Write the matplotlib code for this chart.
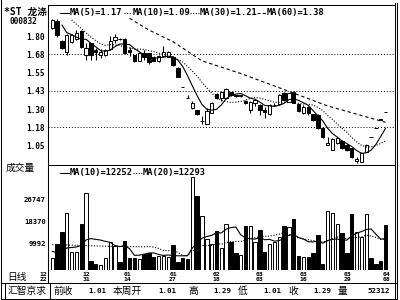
import numpy as np
import pandas as pd
import matplotlib
matplotlib.use("Agg")
import matplotlib.pyplot as plt
import matplotlib.transforms as mtransforms
from matplotlib.lines import Line2D

plt.rcParams['font.family'] = ['DejaVu Sans Mono', 'Noto Sans CJK SC']

# daily K-line of *ST 龙涤 (000832)
opens = [1.855, 1.905, 1.768, 1.691, 1.762, 1.777, 1.834, 1.673, 1.750, 1.704,
         1.670, 1.670, 1.711, 1.773, 1.780, 1.777, 1.704, 1.670, 1.632, 1.682,
         1.682, 1.659, 1.629, 1.663, 1.658, 1.658, 1.579, 1.449, 1.376, 1.306,
         1.294, 1.217, 1.199, 1.276, 1.404, 1.374, 1.374, 1.417, 1.395, 1.392,
         1.356, 1.294, 1.342, 1.328, 1.294, 1.265, 1.326, 1.335, 1.412, 1.351,
         1.419, 1.333, 1.272, 1.315, 1.267, 1.260, 1.171, 1.058, 1.021, 1.067,
         1.082, 1.055, 1.032, 0.946, 0.940, 1.009, 1.110, 1.169, 1.229, 1.282]
highs = [1.915, 1.913, 1.772, 1.815, 1.815, 1.838, 1.840, 1.752, 1.755, 1.718,
         1.711, 1.710, 1.797, 1.814, 1.783, 1.785, 1.725, 1.673, 1.690, 1.704,
         1.686, 1.663, 1.670, 1.732, 1.700, 1.665, 1.585, 1.449, 1.400, 1.359,
         1.297, 1.253, 1.308, 1.351, 1.410, 1.420, 1.443, 1.420, 1.400, 1.400,
         1.360, 1.356, 1.370, 1.332, 1.317, 1.332, 1.340, 1.405, 1.418, 1.412,
         1.423, 1.336, 1.330, 1.320, 1.270, 1.265, 1.175, 1.112, 1.100, 1.105,
         1.090, 1.060, 1.035, 0.975, 1.006, 1.060, 1.110, 1.169, 1.229, 1.282]
lows = [1.850, 1.795, 1.712, 1.667, 1.755, 1.772, 1.720, 1.636, 1.636, 1.636,
        1.650, 1.666, 1.705, 1.749, 1.774, 1.680, 1.663, 1.622, 1.628, 1.636,
        1.610, 1.627, 1.620, 1.660, 1.655, 1.595, 1.520, 1.449, 1.376, 1.303,
        1.262, 1.199, 1.195, 1.272, 1.370, 1.358, 1.370, 1.390, 1.385, 1.385,
        1.335, 1.274, 1.320, 1.260, 1.237, 1.260, 1.320, 1.330, 1.358, 1.347,
        1.340, 1.283, 1.265, 1.260, 1.220, 1.165, 1.105, 1.055, 1.018, 1.062,
        1.030, 1.015, 0.965, 0.930, 0.937, 1.005, 1.110, 1.169, 1.229, 1.282]
closes = [1.910, 1.805, 1.718, 1.810, 1.807, 1.823, 1.727, 1.721, 1.670, 1.690,
          1.691, 1.704, 1.766, 1.790, 1.777, 1.682, 1.693, 1.629, 1.684, 1.659,
          1.624, 1.631, 1.665, 1.693, 1.693, 1.602, 1.523, 1.449, 1.376, 1.344,
          1.265, 1.222, 1.289, 1.344, 1.374, 1.415, 1.436, 1.397, 1.392, 1.395,
          1.340, 1.351, 1.360, 1.294, 1.280, 1.328, 1.330, 1.400, 1.362, 1.408,
          1.344, 1.287, 1.317, 1.274, 1.226, 1.171, 1.110, 1.068, 1.094, 1.100,
          1.036, 1.021, 0.971, 0.958, 1.002, 1.055, 1.110, 1.169, 1.229, 1.282]
# volume in thousands of lots
vols = [4.5, 9.9, 14.4, 21.7, 6.8, 6.8, 17.5, 29.5, 3.6, 2.3,
        1.9, 4.7, 10.8, 9.3, 3.2, 11.1, 4.7, 4.5, 4.1, 6.1,
        6.4, 4.9, 5.3, 5.3, 4.8, 9.5, 3.2, 4.7, 4.2, 35.4,
        28.4, 20.7, 11.7, 9.8, 15.0, 8.5, 17.7, 10.6, 6.4, 5.7,
        16.9, 16.9, 10.6, 15.3, 7.0, 9.9, 10.8, 12.7, 16.8, 16.3,
        19.4, 5.3, 5.0, 4.8, 6.4, 13.4, 2.2, 22.7, 21.7, 17.6,
        14.0, 6.6, 21.4, 14.4, 12.7, 21.4, 4.5, 2.3, 3.4, 17.2]

price_ticks = [1.05, 1.175, 1.30, 1.425, 1.55, 1.675, 1.80]
price_labels = ['1.05', '1.18', '1.30', '1.43', '1.55', '1.68', '1.80']
grid_levels = [1.175, 1.425, 1.675]
vol_ticks = [9992, 18370, 26747]
vol_labels = ['9992', '18370', '26747']

date_pos = [-1.9, 7, 15.5, 25, 34, 43, 52, 61.2, 69.3]
date_month = ['12', '12', '01', '01', '02', '03', '03', '03', '04']
date_day = ['22', '31', '14', '27', '18', '03', '16', '29', '08']

# start of the averages (their earlier data is off screen), read by eye
ma5_head_idx = [2, 3]
ma5_head = [1.875, 1.823]
ma10_head_idx = [4, 6, 8]
ma10_head = [1.909, 1.851, 1.793]
ma30_idx = [16, 20, 25, 31, 39, 47, 57, 69]
ma30_val = [1.921, 1.841, 1.761, 1.630, 1.544, 1.446, 1.322, 1.21]
vma10_head_idx = [0, 1, 2, 3, 4, 5, 6, 7, 8]
vma10_head = [7.1, 6.7, 7.6, 8.4, 8.6, 8.8, 9.4, 11.5, 12.0]
vma20_head_idx = [0, 4, 9, 13, 17]
vma20_head = [9.7, 9.5, 9.2, 9.0, 8.9]

info_items = [('前收', 53), ('1.01', 88), ('本周开', 113), ('1.01', 158),
              ('高', 188), ('1.29', 213), ('低', 238), ('1.01', 263),
              ('收', 288), ('1.29', 313), ('量', 338), ('52312', 367)]


def moving(values, n, head_idx, head_val):
    m = pd.Series(values, dtype=float).rolling(n).mean()
    m.iloc[head_idx] = head_val
    return m


o = np.array(opens); c = np.array(closes)
h = np.array(highs); l = np.array(lows)
v = np.array(vols) * 1000
x = np.arange(len(o))
up = c > o
fill = np.where(up, 'white', 'black')

W, H = 400, 300
fig = plt.figure(figsize=(4, 3), dpi=100)
ax = fig.add_axes([48 / W, 1 - 165 / H, 346 / W, 160 / H])
axv = fig.add_axes([48 / W, 1 - 270 / H, 346 / W, 105 / H])

xmin, xmax = -0.89, 70.75
ax.set_xlim(xmin, xmax)
ax.set_ylim(0.918, 2.012)
axv.set_xlim(xmin, xmax)
axv.set_ylim(0, 40110)

# price panel
for g in grid_levels:
    ax.axhline(g, color='black', lw=0.7, ls=(0, (1, 2)), zorder=1)
ax.vlines(x, l, h, color='black', lw=0.8, zorder=2)
ax.bar(x, np.maximum(np.abs(c - o), 0.001), bottom=np.minimum(o, c), width=0.7,
       color=fill, edgecolor='black', linewidth=0.7, zorder=3)

ma5 = moving(closes, 5, ma5_head_idx, ma5_head)
ma10 = moving(closes, 10, ma10_head_idx, ma10_head)
ok = ma5.notna().values
ax.plot(x[ok], ma5[ok], color='black', lw=0.8, zorder=4)
ok = ma10.notna().values
ax.plot(x[ok], ma10[ok], color='black', lw=0.8, ls=(0, (1, 1.5)), zorder=4)
ax.plot(ma30_idx, ma30_val, color='black', lw=0.8, ls=(0, (3, 2.5)), zorder=4)

# volume panel
axv.bar(x, v, width=0.7, color=fill, edgecolor='black', linewidth=0.7, zorder=2)
vma10 = moving(v / 1000, 10, vma10_head_idx, vma10_head) * 1000
vma20 = moving(v / 1000, 20, vma20_head_idx, vma20_head) * 1000
ok = vma10.notna().values
axv.plot(x[ok], vma10[ok], color='black', lw=0.8, zorder=3)
ok = vma20.notna().values
axv.plot(x[ok], vma20[ok], color='black', lw=0.8, ls=(0, (1, 1.5)), zorder=3)

for a in (ax, axv):
    for s in a.spines.values():
        s.set_visible(False)
    a.set_xticks([])
    a.patch.set_alpha(0)

ax.set_yticks(price_ticks)
ax.set_yticklabels(price_labels)
ax.tick_params(axis='y', length=0, pad=2.2, labelsize=5.6)
for t in ax.get_yticklabels():
    t.set_fontweight('bold')
axv.set_yticks(vol_ticks)
axv.set_yticklabels(vol_labels)
axv.tick_params(axis='y', length=0, pad=1.5, labelsize=5.2)
for t in axv.get_yticklabels():
    t.set_fontweight('bold')

# date labels under the volume bars (month above day)
trans = mtransforms.blended_transform_factory(axv.transData, fig.transFigure)
for p, mo, dd in zip(date_pos, date_month, date_day):
    axv.text(p, 1 - 274.2 / H, mo, transform=trans, ha='center', va='center',
             fontsize=4.6, fontweight='bold', clip_on=False)
    axv.text(p, 1 - 279.6 / H, dd, transform=trans, ha='center', va='center',
             fontsize=4.6, fontweight='bold', clip_on=False)


def fline(x0, y0, x1, y1, **kw):
    kw.setdefault('lw', 0.75)
    kw.setdefault('color', 'black')
    fig.add_artist(Line2D([x0 / W, x1 / W], [1 - y0 / H, 1 - y1 / H],
                          transform=fig.transFigure, **kw))


def ftext(px, py, s, **kw):
    fig.text(px / W, 1 - py / H, s, **kw)


# frame
fline(1, 0, 1, 300)
fline(394.5, 3, 394.5, 299)
fline(397, 3, 397, 299)
fline(48, 5, 394.5, 5)
fline(48, 5, 48, 283)
fline(48, 165, 394.5, 165)
fline(1, 283, 397, 283)
fline(1, 298.5, 397, 298.5)
fline(5, 283, 5, 298.5)
fline(50, 283, 50, 298.5)

# header texts
ftext(4, 11.5, '*ST 龙涤', fontsize=7, fontweight='bold', va='center')
ftext(10, 21.5, '000832', fontsize=5.6, fontweight='bold', va='center')
legend_price = [(60, 70, '-', 'MA(5)=1.17'), (124, 133, (0, (1, 1.5)), 'MA(10)=1.09'),
                (190, 200, (0, (1, 1.5)), 'MA(30)=1.21'), (257, 267, (0, (3, 2)), 'MA(60)=1.38')]
for x0, xt, ls, s in legend_price:
    fline(x0, 13, xt - 1, 13, ls=ls)
    ftext(xt, 13, s, fontsize=6.2, fontweight='bold', va='center')
legend_vol = [(60, 70, '-', 'MA(10)=12252'), (133, 143, (0, (1, 1.5)), 'MA(20)=12293')]
for x0, xt, ls, s in legend_vol:
    fline(x0, 172.5, xt - 1, 172.5, ls=ls)
    ftext(xt, 172.5, s, fontsize=6.2, fontweight='bold', va='center')

ftext(20, 167.5, '成交量', fontsize=7, ha='center', va='center')
ftext(17, 277, '日线', fontsize=7, ha='center', va='center')

# bottom info bar
ftext(27.5, 290.8, '汇智京求', fontsize=7, ha='center', va='center')
for s, px in info_items:
    bold = 'bold' if s[0].isdigit() else 'normal'
    ftext(px, 290.8, s, fontsize=7 if bold == 'normal' else 5.4,
          fontweight=bold, va='center')

fig.savefig('out.png', dpi=100)
